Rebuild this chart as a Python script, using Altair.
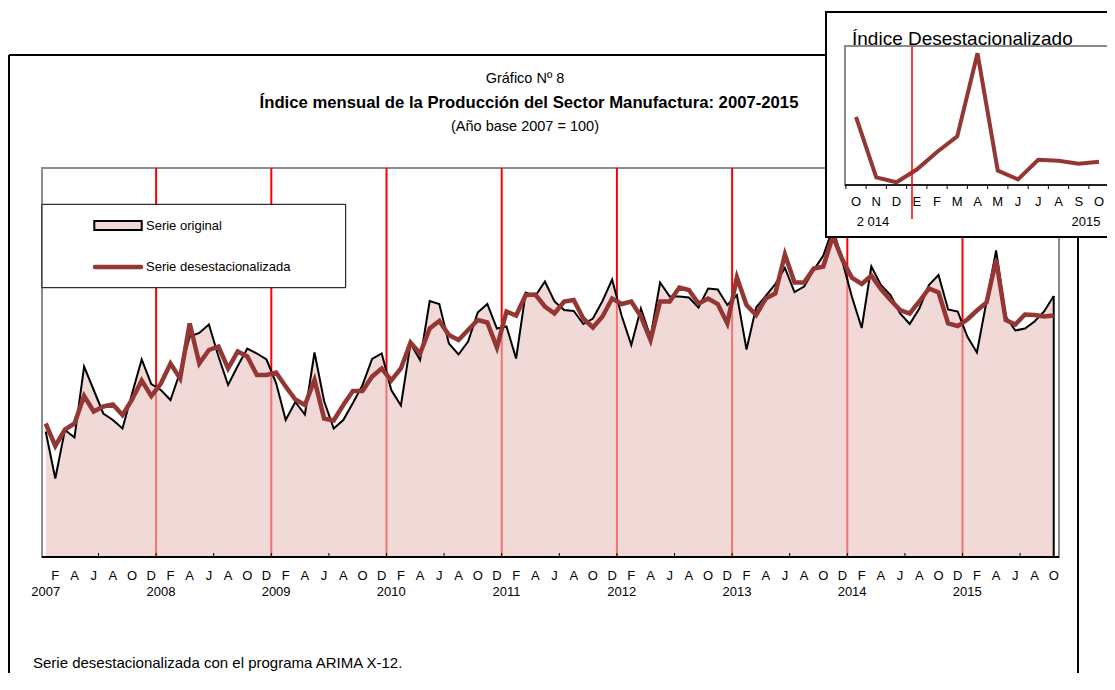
import altair as alt
import pandas as pd

# ---------------- data ----------------
original = [95.7, 86.3, 96.0, 94.5, 108.7, 104.0, 99.3, 98.0, 96.3, 103.3, 110.1, 105.2,
            104.0, 102.0, 107.6, 114.7, 115.4, 117.1, 110.7, 105.0, 108.8, 112.3, 111.3, 110.1,
            105.4, 98.0, 101.6, 99.1, 111.5, 101.8, 96.3, 98.0, 101.4, 105.0, 110.2, 111.3,
            104.0, 100.9, 113.3, 110.0, 121.8, 121.2, 113.3, 111.1, 113.7, 119.5, 121.2, 116.3,
            116.7, 110.3, 123.5, 122.8, 125.7, 121.7, 120.0, 119.8, 117.2, 118.3, 121.8, 126.1,
            118.8, 113.0, 120.3, 114.6, 125.5, 122.7, 122.7, 122.5, 120.5, 124.3, 124.1, 121.0,
            123.0, 112.1, 120.5, 122.8, 125.2, 128.4, 123.6, 124.7, 128.0, 130.9, 136.4, 129.6,
            122.5, 116.4, 128.7, 125.0, 123.0, 119.3, 117.2, 120.3, 125.0, 127.0, 120.1, 119.7,
            114.7, 111.5, 121.7, 131.9, 118.7, 115.9, 116.3, 117.7, 119.7, 122.8]

deseason = [97.3, 92.8, 96.1, 97.3, 102.8, 99.7, 100.7, 101.1, 99.0, 102.1, 105.9, 102.8,
            105.3, 109.3, 106.3, 117.3, 109.3, 112.0, 112.7, 108.3, 111.7, 110.7, 107.0, 107.0,
            107.5, 104.7, 102.1, 101.0, 106.0, 98.3, 97.9, 101.0, 103.8, 103.8, 106.7, 108.3,
            105.9, 108.3, 113.5, 111.3, 116.3, 117.8, 115.0, 114.0, 116.0, 118.0, 117.5, 112.5,
            119.7, 118.9, 123.0, 123.1, 120.7, 119.3, 121.7, 122.0, 118.3, 116.5, 118.7, 122.3,
            121.2, 121.7, 118.7, 114.0, 121.7, 121.7, 124.5, 124.0, 121.3, 122.3, 121.2, 117.3,
            126.5, 121.0, 119.0, 122.3, 123.3, 131.1, 125.5, 125.5, 128.3, 128.7, 134.8, 130.0,
            126.4, 125.2, 126.9, 124.2, 122.0, 120.0, 119.3, 121.7, 124.3, 123.5, 117.3, 116.8,
            118.1, 119.9, 121.5, 130.0, 118.0, 117.1, 119.1, 119.0, 118.7, 118.9]

years = ["2007", "2008", "2009", "2010", "2011", "2012", "2013", "2014", "2015"]
month_letters = ["F", "A", "J", "A", "O", "D"]
inset_letters = ["O", "N", "D", "E", "F", "M", "A", "M", "J", "J", "A", "S", "O"]

N = len(original)
Y_MIN = 70.6
df = pd.DataFrame({"t": list(range(N)), "orig": original, "des": deseason})
df["base"] = Y_MIN
df_last = df.tail(1)

df_years = pd.DataFrame({"t": [12 * k for k in range(len(years))], "lab": years})
df_bounds = pd.DataFrame({"t": [12 * k + 11.5 for k in range(len(years) - 1)]})
mpos = list(range(1, N, 2))
df_mlab = pd.DataFrame({"t": mpos, "lab": [month_letters[j % 6] for j in range(len(mpos))]})
df_ticks = pd.DataFrame({"t": [5.5 + 6 * k for k in range(17)]})

n_in = len(inset_letters)
df_in = pd.DataFrame({"k": list(range(n_in)), "v": deseason[-n_in:], "lab": inset_letters})
df_in_ticks = pd.DataFrame({"k": [k - 0.5 for k in range(n_in + 1)]})

# ---------------- layout constants ----------------
W, H = 1017, 389
FONT = "Liberation Sans, Arial"
RED = "#943634"

XS = alt.Scale(domain=[-0.385, 105.55])
YS = alt.Scale(domain=[Y_MIN, 148.4])
XI = alt.Scale(domain=[0, 12], range=[814, 1057])
YI = alt.Scale(domain=[116.52, 130.75], range=[17, -122])

one = pd.DataFrame({"z": [0]})


def rect(x, x2, y, y2, **kw):
    return alt.Chart(one).mark_rect(**kw).encode(
        x=alt.value(x), x2=alt.value(x2), y=alt.value(y), y2=alt.value(y2))


def rule(x, x2, y, y2, **kw):
    return alt.Chart(one).mark_rule(**kw).encode(
        x=alt.value(x), x2=alt.value(x2), y=alt.value(y), y2=alt.value(y2))


def label(text, x, y, **kw):
    return alt.Chart(one).mark_text(text=text, font=FONT, **kw).encode(
        x=alt.value(x), y=alt.value(y))


base = alt.Chart(df)
xq = alt.X("t:Q", scale=XS, axis=None)

layers = []

# outer frame of the figure
layers.append(rule(-33, -33, -113, 520, color="black", strokeWidth=2))
layers.append(rule(-33, 790, -113, -113, color="black", strokeWidth=2))
layers.append(rule(1036, 1036, -113, 520, color="black", strokeWidth=2))

# plot frame (grey)
layers.append(rect(0, W, 0, H, fillOpacity=0, stroke="#8c8c8c", strokeWidth=2))

# red year boundaries
layers.append(alt.Chart(df_bounds).mark_rule(color="red", strokeWidth=2).encode(
    x=xq, y=alt.value(0), y2=alt.value(H)))

# area of original series
layers.append(base.mark_area(color="#e6bfbd", opacity=0.6).encode(
    x=xq, y=alt.Y("orig:Q", scale=YS, axis=None), y2="base:Q"))
layers.append(alt.Chart(df_last).mark_rule(color="black", strokeWidth=2).encode(
    x=xq, y=alt.Y("orig:Q", scale=YS, axis=None), y2="base:Q"))
layers.append(base.mark_line(color="black", strokeWidth=2).encode(
    x=xq, y=alt.Y("orig:Q", scale=YS, axis=None)))
layers.append(base.mark_line(color=RED, strokeWidth=4.5).encode(
    x=xq, y=alt.Y("des:Q", scale=YS, axis=None)))

# x axis
layers.append(rule(0, W, H, H, color="black", strokeWidth=2))
layers.append(alt.Chart(df_ticks).mark_rule(color="black", strokeWidth=1).encode(
    x=xq, y=alt.value(H - 4), y2=alt.value(H)))
layers.append(alt.Chart(df_mlab).mark_text(font=FONT, fontSize=13, baseline="middle").encode(
    x=xq, y=alt.value(408), text="lab:N"))
layers.append(alt.Chart(df_years).mark_text(font=FONT, fontSize=13, baseline="middle").encode(
    x=xq, y=alt.value(424), text="lab:N"))

# legend
layers.append(rect(0, 303.7, 36.3, 119.7, fill="white", stroke="black", strokeWidth=1))
layers.append(rect(52.3, 99.7, 53, 62, fill="#f0d9d8", stroke="black", strokeWidth=2))
layers.append(rule(53, 99, 99, 99, color=RED, strokeWidth=4.5, strokeCap="round"))
layers.append(label("Serie original", 104, 58, fontSize=13, align="left", baseline="middle"))
layers.append(label("Serie desestacionalizada", 104, 99, fontSize=13, align="left", baseline="middle"))

# titles and note
layers.append(label("Gráfico Nº 8", 483, -89, fontSize=14.5, baseline="middle"))
layers.append(label("Índice mensual de la Producción del Sector Manufactura: 2007-2015", 487, -65,
                    fontSize=16.7, fontWeight="bold", baseline="middle"))
layers.append(label("(Año base 2007 = 100)", 483, -41, fontSize=14.5, baseline="middle"))
layers.append(label("Serie desestacionalizada con el programa ARIMA X-12.", -9, 495,
                    fontSize=15, align="left", baseline="middle"))

# ---------------- inset ----------------
layers.append(rect(784, 1200, -156, 69, fill="white", stroke="black", strokeWidth=2))
layers.append(rect(803, 1200, -122, 17, fillOpacity=0, stroke="#8c8c8c", strokeWidth=2))
layers.append(rule(803, 1200, 17, 17, color="black", strokeWidth=1.5))
xi = alt.X("k:Q", scale=XI, axis=None)
layers.append(alt.Chart(df_in_ticks).mark_rule(color="black", strokeWidth=1).encode(
    x=xi, y=alt.value(17), y2=alt.value(21)))
layers.append(alt.Chart(df_in).mark_text(font=FONT, fontSize=13, baseline="middle").encode(
    x=xi, y=alt.value(34), text="lab:N"))
layers.append(label("2 014", 831, 54, fontSize=13, baseline="middle"))
layers.append(label("2015", 1044, 54, fontSize=13, baseline="middle"))
layers.append(alt.Chart(df_in).mark_line(color=RED, strokeWidth=4).encode(
    x=xi, y=alt.Y("v:Q", scale=YI, axis=None)))
layers.append(rule(870, 870, -122, 51, color="red", strokeWidth=1.5))
layers.append(label("Índice Desestacionalizado", 810, -123.5, fontSize=19,
                    align="left", baseline="alphabetic"))

chart = alt.layer(*layers).resolve_scale(x="independent", y="independent").properties(
    width=W, height=H,
    autosize=alt.AutoSizeParams(type="none"),
    padding={"left": 34, "top": 160, "right": 48, "bottom": 116},
).configure_view(stroke=None).configure(background="white")

chart.save("out.html", embed_options={"renderer": "svg", "actions": False})
